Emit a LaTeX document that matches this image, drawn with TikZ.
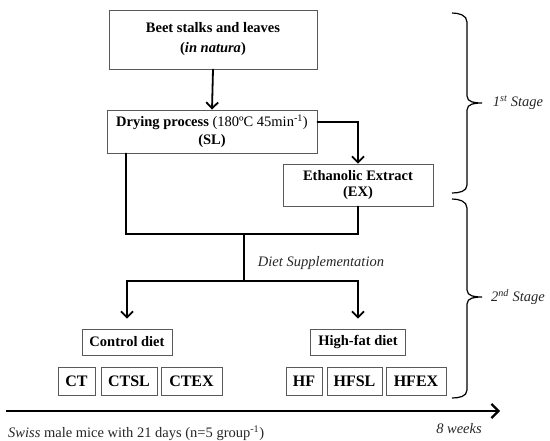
\documentclass[tikz,border=0pt]{standalone}
\usepackage{fontspec}
\setmainfont{Liberation Serif}
\usetikzlibrary{arrows.meta}
\begin{document}
\begin{tikzpicture}[x=1pt,y=-1pt,
  box/.style={draw=black!65,line width=0.9pt,rectangle,inner sep=0pt,align=center,font=\fontsize{14.5}{17}\selectfont\bfseries},
  small/.style={box,minimum height=28pt,font=\fontsize{16}{18}\selectfont\bfseries},
  conn/.style={line width=1.8pt,line cap=round,line join=miter},
  arr/.style={conn,-{Straight Barb[length=6pt,width=12pt,line width=1.8pt]}},
  brace/.style={line width=1.2pt},
  lbl/.style={font=\fontsize{14.5}{16}\selectfont\itshape,text=black!85,inner sep=0pt}]
\useasboundingbox (0,0) rectangle (550,441);
% main boxes
\node[box,minimum width=208pt,minimum height=59pt,font=\fontsize{14.5}{20}\selectfont\bfseries] (beet) at (213,39.5) {Beet stalks and leaves\\(\textit{in natura})};
\node[box,minimum width=210pt,minimum height=43pt,font=\fontsize{14.5}{18}\selectfont\bfseries] (dry) at (212,131.5) {Drying process \mdseries(180ºC 45min\textsuperscript{-1})\\(SL)};
\node[box,minimum width=150pt,minimum height=42pt,font=\fontsize{14.5}{16.5}\selectfont\bfseries] (ex) at (358,185) {Ethanolic Extract\\(EX)};
\node[box,minimum width=90pt,minimum height=26pt] (ctrl) at (127,342) {Control diet};
\node[box,minimum width=95pt,minimum height=26pt] (hfd) at (358,342) {High-fat diet};
\node[small,minimum width=37pt] (ct) at (76.5,381) {CT};
\node[small,minimum width=56pt] (ctsl) at (129,381) {CTSL};
\node[small,minimum width=61pt] (ctex) at (191.5,381) {CTEX};
\node[small,minimum width=36pt] (hf) at (304,381) {HF};
\node[small,minimum width=55pt] (hfsl) at (354.5,381) {HFSL};
\node[small,minimum width=60pt] (hfex) at (416,381) {HFEX};
% connectors
\coordinate (j1) at (244,234);
\coordinate (j2) at (244,281);
\draw[arr] (beet.south) -- (dry.north);
\draw[arr] ([yshift=9.5pt]dry.east) -| (ex.north);
\draw[conn] ([xshift=-86pt]dry.south) |- (j1) -| (ex.south);
\draw[conn] (j1) -- (j2);
\draw[arr,shorten >=10pt] (j2) -| (ctrl.north);
\draw[arr,shorten >=10pt] (j2) -| (hfd.north);
\node[lbl] (ds) at (321,263) {Diet Supplementation};
% timeline
\coordinate (t0) at (6,411);
\coordinate (t1) at (500,411);
\draw[line width=2.2pt,-{Straight Barb[length=7pt,width=14pt,line width=2.2pt]}] (t0) -- (t1);
\node[lbl,anchor=west,font=\fontsize{14.5}{16}\selectfont,text=black!85] (mice) at (8,433) {\textit{Swiss} male mice with 21 days (n=5 group\textsuperscript{-1})};
\node[lbl] (wk) at (459,429) {8 weeks};
% braces
\draw[brace] (452,13) to[out=0,in=90] (467,22) -- (467,96) to[out=-90,in=180] (482,103)
  to[out=180,in=90] (467,110) -- (467,185) to[out=-90,in=0] (452,193);
\draw[brace] (452,199) to[out=0,in=90] (467,208) -- (467,290) to[out=-90,in=180] (482,297)
  to[out=180,in=90] (467,304) -- (467,390) to[out=-90,in=0] (452,398);
\node[lbl] (s1) at (518,103) {1\textsuperscript{st} Stage};
\node[lbl] (s2) at (518,297) {2\textsuperscript{nd} Stage};
\end{tikzpicture}
\end{document}
